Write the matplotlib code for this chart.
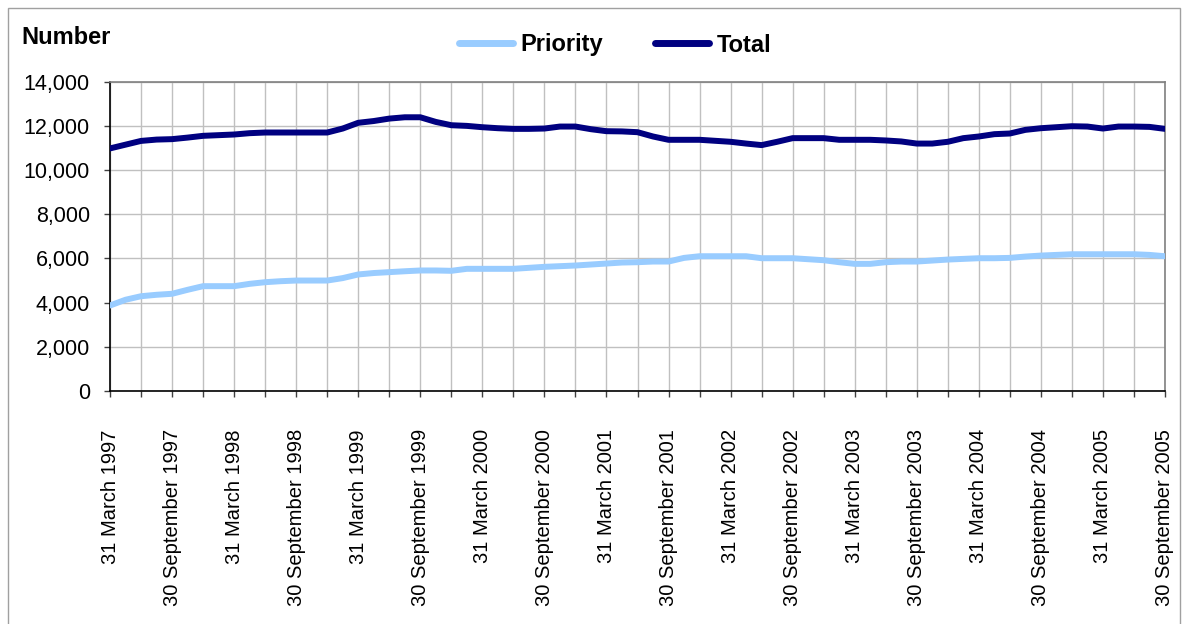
import matplotlib
matplotlib.use("Agg")
import matplotlib.pyplot as plt
from matplotlib.ticker import FuncFormatter, MultipleLocator
from matplotlib.patches import Rectangle

plt.rcParams['font.family'] = ['Liberation Sans', 'DejaVu Sans']

tick_labels = [
    "31 March 1997", "30 September 1997", "31 March 1998", "30 September 1998",
    "31 March 1999", "30 September 1999", "31 March 2000", "30 September 2000",
    "31 March 2001", "30 September 2001", "31 March 2002", "30 September 2002",
    "31 March 2003", "30 September 2003", "31 March 2004", "30 September 2004",
    "31 March 2005", "30 September 2005",
]

total = [10980, 11150, 11320, 11380, 11400, 11470, 11550, 11580, 11610, 11670,
         11700, 11700, 11700, 11700, 11700, 11880, 12140, 12220, 12330, 12390,
         12390, 12180, 12030, 12000, 11940, 11895, 11865, 11865, 11880, 11970,
         11970, 11850, 11760, 11750, 11715, 11520, 11370, 11370, 11370, 11325,
         11280, 11200, 11130, 11280, 11445, 11445, 11445, 11370, 11370, 11370,
         11340, 11295, 11200, 11200, 11280, 11445, 11520, 11625, 11655, 11820,
         11895, 11940, 11985, 11970, 11880, 11970, 11970, 11955, 11865]

priority = [3870, 4130, 4290, 4355, 4400, 4580, 4745, 4745, 4745, 4850,
            4925, 4970, 5000, 5000, 5000, 5110, 5275, 5340, 5380, 5420,
            5455, 5455, 5440, 5530, 5530, 5530, 5530, 5575, 5620, 5650,
            5680, 5725, 5770, 5815, 5830, 5860, 5860, 6025, 6100, 6100,
            6100, 6100, 6010, 6010, 6010, 5965, 5920, 5830, 5755, 5755,
            5830, 5860, 5860, 5905, 5950, 5980, 6010, 6010, 6025, 6085,
            6130, 6160, 6190, 6190, 6190, 6190, 6190, 6160, 6100]

W, H = 1187, 624
fig = plt.figure(figsize=(W / 100, H / 100), dpi=100)
ax = fig.add_axes([110 / W, 1 - 391 / H, (1165 - 110) / W, (391 - 81.7) / H])

x = list(range(len(total)))
lp, = ax.plot(x, priority, color='#99CCFF', lw=4.3, solid_capstyle='round',
              solid_joinstyle='round', label='Priority', zorder=3)
lt, = ax.plot(x, total, color='#000080', lw=4.3, solid_capstyle='round',
              solid_joinstyle='round', label='Total', zorder=4)

ax.set_xlim(0, len(total) - 1)
ax.set_ylim(0, 14000)

ax.yaxis.set_major_locator(MultipleLocator(2000))
ax.yaxis.set_major_formatter(FuncFormatter(lambda v, p: f"{v:,.0f}"))

tick_pos = list(range(0, len(total), 2))
tick_text = [tick_labels[k // 2] if k % 2 == 0 else "" for k in range(len(tick_pos))]
ax.set_xticks(tick_pos)
ax.set_xticklabels(tick_text, rotation=90, fontsize=14.5, va='top', ha='center')
ax.tick_params(axis='x', which='major', length=4.5, width=1, color='#404040',
               direction='out', pad=23)
ax.tick_params(axis='y', which='major', length=4.5, width=1, color='#404040',
               direction='out', labelsize=15.5, pad=10)

ax.grid(True, which='major', axis='both', color='#c0c0c0', lw=1, zorder=0)
ax.set_axisbelow(True)

for s in ['left', 'bottom']:
    ax.spines[s].set_color('#000000')
    ax.spines[s].set_linewidth(1.2)
for s in ['top', 'right']:
    ax.spines[s].set_color('#808080')
    ax.spines[s].set_linewidth(1.2)

fig.text(21 / W, 1 - 38 / H, "Number", fontsize=17, fontweight='bold', va='center', ha='left')

leg = fig.legend(handles=[lp, lt], loc='center', bbox_to_anchor=(615 / W, 1 - 45 / H), ncol=2,
                 frameon=False, prop={'weight': 'bold', 'size': 17}, handlelength=2.3,
                 handletextpad=0.3, columnspacing=2.2)
for line in leg.get_lines():
    line.set_linewidth(5)

fig.patches.append(Rectangle((7.5 / W, -0.01), (1180 - 7.5) / W, 1 - 7.5 / H + 0.01,
                             transform=fig.transFigure, fill=False, edgecolor='#a0a0a0', lw=1))

fig.savefig("out.png", dpi=100)
